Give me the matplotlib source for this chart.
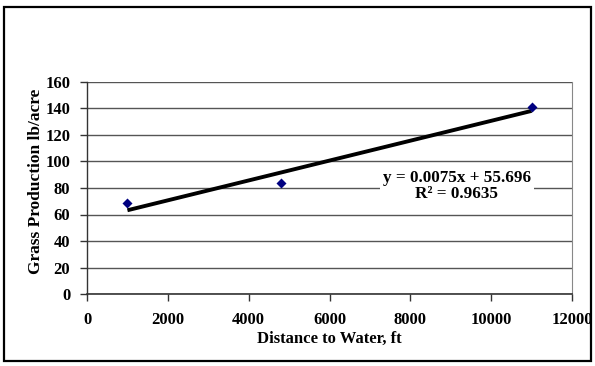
import matplotlib
matplotlib.use("Agg")
import matplotlib.pyplot as plt
from matplotlib.patches import Rectangle
import numpy as np

plt.rcParams['font.family'] = ['Liberation Serif', 'DejaVu Serif']
plt.rcParams['font.weight'] = 'bold'

distance_ft = [1000, 4800, 11000]
grass_lb_acre = [68.5, 83.5, 141.5]
trend_slope = 0.0075
trend_intercept = 55.696
r_squared = 0.9635
x_ticks = [0, 2000, 4000, 6000, 8000, 10000, 12000]
y_ticks = [0, 20, 40, 60, 80, 100, 120, 140, 160]

W, H = 595, 366
fig = plt.figure(figsize=(W / 100, H / 100), dpi=100)
fig.patch.set_facecolor('white')

# outer chart border
fig.patches.append(Rectangle((4 / W, 1 - 361 / H), 587 / W, 354 / H,
                             transform=fig.transFigure, fill=False,
                             edgecolor='black', linewidth=1.6))

ax = fig.add_axes([87 / W, 72 / H, 485 / W, 212 / H])
ax.set_xlim(0, 12000)
ax.set_ylim(0, 160)
ax.set_xticks(x_ticks)
ax.set_yticks(y_ticks)
ax.set_xticklabels([str(t) for t in x_ticks])
ax.set_yticklabels([str(t) for t in y_ticks])

ax.grid(axis='y', color='#555555', linewidth=1.0)
ax.set_axisbelow(True)
ax.spines['top'].set_visible(False)
ax.spines['right'].set_color('#888888')
ax.spines['left'].set_color('#333333')
ax.spines['bottom'].set_color('#333333')
ax.spines['left'].set_linewidth(1.0)
ax.spines['bottom'].set_linewidth(1.2)

ax.tick_params(axis='both', direction='out', length=5, width=1, color='#333333',
               labelsize=12)
ax.tick_params(axis='x', pad=8)
ax.tick_params(axis='y', pad=7)
for lbl in ax.get_xticklabels() + ax.get_yticklabels():
    lbl.set_fontweight('bold')

# trendline
xt = np.array([min(distance_ft), max(distance_ft)])
ax.plot(xt, trend_slope * xt + trend_intercept, color='black', linewidth=2.8,
        solid_capstyle='butt', zorder=3)

# data points
ax.scatter(distance_ft, grass_lb_acre, marker='D', s=26, color='#000080',
           zorder=4, linewidths=0)

ax.set_xlabel('Distance to Water, ft', fontsize=12, fontweight='bold', labelpad=2)
ax.set_ylabel('Grass Production lb/acre', fontsize=12.5, fontweight='bold', labelpad=2)
ax.yaxis.set_label_coords(-0.088, 0.53)

ax.text(9150, 81.5,
        'y = 0.0075x + 55.696\nR\u00b2 = 0.9635',
        ha='center', va='center', fontsize=12.3, fontweight='bold',
        linespacing=1.0, zorder=5,
        bbox=dict(facecolor='white', edgecolor='none', pad=2.0))

fig.savefig('out.png', dpi=100, facecolor='white')
